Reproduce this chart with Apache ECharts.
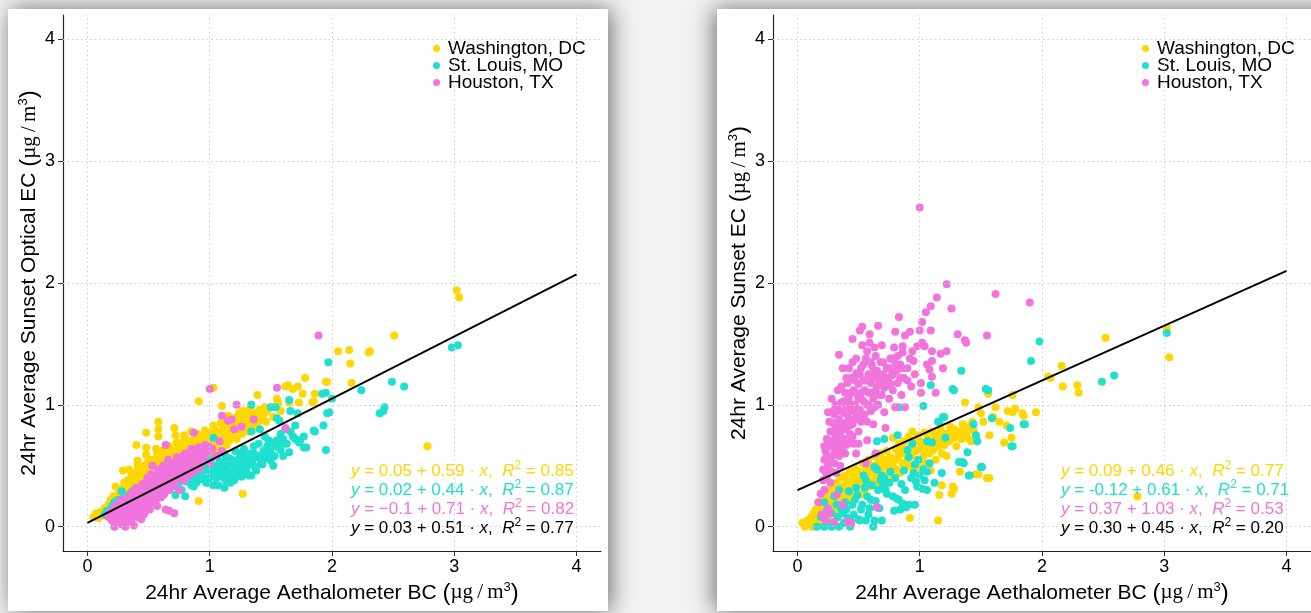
<!DOCTYPE html>
<html>
<head>
<meta charset="utf-8">
<script src="https://cdn.jsdelivr.net/npm/echarts@6/dist/echarts.min.js"></script>
<style>
html,body{margin:0;padding:0;background:#f2f2f2;}
#chart{width:1311px;height:613px;}
</style>
</head>
<body>
<div id="chart"></div>
<script>
// ---------------- data ----------------
const xTicks = [0, 1, 2, 3, 4];
const yTicks = [0, 1, 2, 3, 4];
const cities = ['Washington, DC', 'St. Louis, MO', 'Houston, TX'];
const cityColors = ['#FFD700', '#1FE0CF', '#F174DD'];

// Left panel: Aethalometer BC (x) vs Sunset Optical EC (y)
const opticalWashington = [[0.05,0.08],[0.07,0.11],[0.09,0.07],[0.11,0.12],[0.12,0.09],[0.14,0.15],[0.15,0.11],[0.17,0.18],[0.18,0.13],[0.19,0.22],[0.2,0.16],[0.21,0.25],[0.22,0.19],[0.23,0.33],[0.24,0.23],[0.25,0.2],[0.26,0.28],[0.27,0.24],[0.28,0.31],[0.29,0.46],[0.29,0.27],[0.3,0.36],[0.31,0.3],[0.32,0.25],[0.33,0.33],[0.34,0.47],[0.35,0.37],[0.35,0.29],[0.36,0.32],[0.37,0.4],[0.38,0.35],[0.39,0.3],[0.4,0.67],[0.4,0.38],[0.41,0.54],[0.41,0.5],[0.42,0.42],[0.43,0.36],[0.44,0.45],[0.45,0.39],[0.46,0.33],[0.47,0.44],[0.48,0.77],[0.48,0.65],[0.48,0.59],[0.49,0.52],[0.5,0.41],[0.5,0.47],[0.51,0.36],[0.52,0.43],[0.53,0.5],[0.54,0.39],[0.55,0.46],[0.56,0.64],[0.56,0.55],[0.57,0.42],[0.58,0.86],[0.58,0.8],[0.58,0.74],[0.59,0.49],[0.6,0.45],[0.61,0.57],[0.62,0.41],[0.63,0.52],[0.64,0.47],[0.65,0.6],[0.66,0.5],[0.67,0.44],[0.68,0.55],[0.69,0.62],[0.7,0.48],[0.71,0.81],[0.72,0.75],[0.72,0.58],[0.73,0.52],[0.74,0.66],[0.75,0.6],[0.76,0.47],[0.77,0.55],[0.78,0.69],[0.79,0.58],[0.8,0.72],[0.8,0.5],[0.81,0.63],[0.82,0.56],[0.83,0.68],[0.84,0.61],[0.85,0.52],[0.86,0.71],[0.87,0.64],[0.88,0.58],[0.89,0.7],[0.9,0.62],[0.91,1.03],[0.91,0.21],[0.92,0.67],[0.93,0.59],[0.94,0.74],[0.95,0.64],[0.96,0.55],[0.97,0.7],[0.98,0.63],[0.99,0.77],[1.0,0.68],[1.01,0.6],[1.02,0.73],[1.03,1.14],[1.04,0.66],[1.05,0.79],[1.06,0.71],[1.07,0.63],[1.08,0.76],[1.09,0.85],[1.1,0.99],[1.1,0.69],[1.11,0.8],[1.12,0.74],[1.13,0.88],[1.14,0.67],[1.15,0.91],[1.15,0.78],[1.16,0.71],[1.17,0.84],[1.18,0.83],[1.19,0.75],[1.2,0.89],[1.21,0.79],[1.22,0.72],[1.23,0.86],[1.24,0.8],[1.25,0.86],[1.26,0.76],[1.27,0.27],[1.28,0.92],[1.29,0.82],[1.3,0.88],[1.31,0.78],[1.32,0.9],[1.33,0.84],[1.34,0.95],[1.35,0.87],[1.36,0.8],[1.37,0.93],[1.38,0.85],[1.39,1.08],[1.4,0.9],[1.41,0.96],[1.42,0.88],[1.44,0.92],[1.46,0.86],[1.47,0.95],[1.5,0.98],[1.52,0.9],[1.55,1.05],[1.56,1.01],[1.58,0.95],[1.62,1.15],[1.64,1.16],[1.65,1.02],[1.68,1.13],[1.72,1.15],[1.73,1.02],[1.76,1.09],[1.78,1.22],[1.84,1.02],[1.85,1.03],[1.86,1.09],[1.95,1.19],[1.96,1.19],[2.05,1.44],[2.14,1.45],[2.15,1.34],[2.16,1.18],[2.3,1.43],[2.31,1.44],[2.51,1.57],[2.78,0.66],[3.02,1.94],[3.04,1.88],
  [0.3,0.31],[0.33,0.38],[0.36,0.42],[0.38,0.44],[0.42,0.47],[0.45,0.5],[0.47,0.36],[0.5,0.53],[0.52,0.55],[0.54,0.49],[0.57,0.6],[0.6,0.52],[0.62,0.63],[0.65,0.55],[0.67,0.66],[0.7,0.59],[0.73,0.69],[0.76,0.64],[0.79,0.75],[0.82,0.68],[0.85,0.78],[0.88,0.66],[0.9,0.76],[0.93,0.7],[0.96,0.79],[1.0,0.74],[1.03,0.83],[1.06,0.77],[1.09,0.72],[1.12,0.82],[1.16,0.76],[1.19,0.87],[1.22,0.8],[1.26,0.9],[1.29,0.86],[1.32,0.96],[1.36,0.92],[1.4,0.86],[1.43,0.94],[1.27,0.95],[1.24,0.93],[1.45,0.98]];
const opticalStLouis = [[0.14,0.1],[0.16,0.13],[0.18,0.11],[0.2,0.17],[0.22,0.2],[0.23,0.15],[0.25,0.22],[0.27,0.19],[0.28,0.29],[0.3,0.23],[0.32,0.2],[0.34,0.26],[0.36,0.24],[0.38,0.3],[0.4,0.27],[0.42,0.22],[0.44,0.31],[0.46,0.26],[0.48,0.34],[0.5,0.29],[0.52,0.24],[0.54,0.33],[0.56,0.28],[0.58,0.36],[0.6,0.31],[0.62,0.26],[0.64,0.35],[0.66,0.3],[0.68,0.38],[0.7,0.33],[0.72,0.26],[0.73,0.41],[0.75,0.36],[0.77,0.3],[0.79,0.42],[0.8,0.25],[0.81,0.37],[0.83,0.44],[0.85,0.34],[0.86,0.4],[0.88,0.46],[0.89,0.36],[0.9,0.42],[0.92,0.5],[0.93,0.39],[0.94,0.45],[0.96,0.52],[0.97,0.36],[0.98,0.47],[1.0,0.41],[1.01,0.55],[1.02,0.44],[1.03,0.73],[1.03,0.34],[1.04,0.5],[1.05,0.4],[1.06,0.58],[1.07,0.34],[1.08,0.47],[1.09,0.41],[1.1,0.53],[1.11,0.44],[1.12,0.6],[1.13,0.38],[1.14,0.5],[1.15,0.45],[1.16,0.56],[1.17,0.36],[1.18,0.4],[1.19,0.52],[1.2,0.47],[1.21,0.62],[1.22,0.42],[1.23,0.55],[1.24,0.49],[1.25,0.58],[1.26,0.41],[1.27,0.53],[1.28,0.64],[1.29,0.47],[1.3,0.56],[1.31,0.5],[1.32,0.42],[1.33,0.6],[1.34,1.0],[1.34,0.78],[1.34,0.42],[1.35,0.54],[1.36,0.66],[1.37,0.49],[1.38,0.58],[1.39,0.57],[1.4,0.68],[1.41,0.8],[1.42,0.52],[1.43,0.51],[1.44,0.62],[1.45,0.74],[1.46,0.58],[1.47,0.66],[1.48,0.71],[1.5,0.54],[1.5,0.98],[1.5,0.64],[1.52,0.5],[1.53,0.69],[1.54,0.98],[1.55,0.89],[1.55,0.71],[1.57,0.87],[1.58,0.76],[1.58,0.63],[1.6,0.68],[1.62,0.8],[1.65,1.04],[1.65,0.61],[1.66,0.95],[1.68,0.74],[1.7,0.83],[1.72,0.93],[1.73,0.69],[1.74,0.71],[1.77,0.74],[1.77,0.65],[1.79,0.65],[1.85,0.79],[1.86,0.78],[1.92,1.09],[1.93,0.83],[1.95,1.1],[1.95,0.63],[1.96,0.93],[1.97,1.35],[1.98,0.94],[2.0,1.05],[2.24,1.12],[2.39,0.93],[2.42,0.95],[2.43,0.98],[2.49,1.19],[2.59,1.15],[2.98,1.47],[3.03,1.49],
  [0.84,0.38],[0.87,0.33],[0.9,0.47],[0.95,0.4],[0.99,0.36],[1.02,0.49],[1.05,0.45],[1.08,0.53],[1.11,0.48],[1.13,0.57],[1.16,0.42],[1.18,0.55],[1.2,0.38],[1.22,0.5],[1.25,0.45],[1.27,0.61],[1.3,0.45],[1.33,0.53],[1.36,0.6],[1.38,0.46],[1.41,0.58],[1.44,0.55],[1.47,0.62],[1.5,0.6],[1.53,0.58],[1.56,0.65],[1.6,0.72],[1.63,0.68],[1.66,0.78],[1.7,0.72],[1.6,0.58],[1.12,0.32],[1.0,0.48],[0.93,0.44]];
const opticalHouston = [[0.17,0.08],[0.19,0.12],[0.2,0.05],[0.21,0.1],[0.22,0.0],[0.22,0.15],[0.23,0.07],[0.24,0.12],[0.25,0.03],[0.25,0.18],[0.26,0.08],[0.27,0.14],[0.28,0.02],[0.28,0.21],[0.29,0.1],[0.3,0.16],[0.31,0.0],[0.31,0.06],[0.32,0.22],[0.32,0.12],[0.33,0.18],[0.34,0.09],[0.35,0.25],[0.35,0.14],[0.36,0.04],[0.37,0.2],[0.38,0.01],[0.38,0.11],[0.39,0.27],[0.39,0.16],[0.4,0.22],[0.41,0.08],[0.42,0.3],[0.42,0.18],[0.43,0.13],[0.44,0.25],[0.45,0.2],[0.46,0.33],[0.46,0.1],[0.47,0.28],[0.48,0.16],[0.49,0.23],[0.5,0.35],[0.5,0.3],[0.51,0.14],[0.52,0.26],[0.53,0.5],[0.53,0.38],[0.54,0.2],[0.55,0.32],[0.56,0.42],[0.56,0.27],[0.57,0.17],[0.58,0.36],[0.59,0.3],[0.6,0.45],[0.6,0.24],[0.61,0.39],[0.62,0.33],[0.63,0.27],[0.64,0.67],[0.64,0.14],[0.64,0.42],[0.65,0.48],[0.66,0.36],[0.67,0.13],[0.67,0.3],[0.68,0.45],[0.69,0.4],[0.7,0.52],[0.7,0.34],[0.71,0.11],[0.72,0.47],[0.73,0.38],[0.74,0.55],[0.74,0.43],[0.75,0.3],[0.76,0.5],[0.77,0.44],[0.78,0.58],[0.79,0.38],[0.8,0.53],[0.81,0.47],[0.82,0.6],[0.83,0.42],[0.84,0.56],[0.85,0.5],[0.86,0.63],[0.87,0.77],[0.87,0.45],[0.88,0.58],[0.9,0.53],[0.91,0.65],[0.92,0.48],[0.93,0.6],[0.95,0.55],[0.96,0.67],[0.98,0.6],[1.0,1.13],[1.0,0.52],[1.02,0.64],[1.05,0.58],[1.08,0.7],[1.1,0.91],[1.1,0.62],[1.15,0.87],[1.18,0.88],[1.2,0.8],[1.22,1.0],[1.26,0.82],[1.36,0.88],[1.55,1.14],[1.62,0.81],[1.89,1.57],
  [0.2,0.13],[0.23,0.17],[0.26,0.2],[0.27,0.05],[0.29,0.23],[0.3,0.12],[0.33,0.06],[0.34,0.2],[0.36,0.28],[0.37,0.09],[0.4,0.32],[0.41,0.15],[0.43,0.27],[0.44,0.06],[0.45,0.35],[0.47,0.12],[0.48,0.3],[0.49,0.4],[0.51,0.2],[0.52,0.43],[0.54,0.34],[0.55,0.4],[0.57,0.23],[0.58,0.47],[0.59,0.41],[0.61,0.28],[0.62,0.5],[0.65,0.4],[0.66,0.55],[0.68,0.35],[0.69,0.5],[0.71,0.42],[0.73,0.57],[0.76,0.42],[0.78,0.48],[0.8,0.6],[0.83,0.52],[0.85,0.64],[0.89,0.62],[0.92,0.56],[0.94,0.64],[0.97,0.6],[0.99,0.66]];

// Right panel: Aethalometer BC (x) vs Sunset EC (y)
const thermalWashington = [[0.04,0.03],[0.06,0.0],[0.08,0.05],[0.1,0.02],[0.11,0.08],[0.12,0.0],[0.13,0.11],[0.14,0.04],[0.15,0.14],[0.16,0.07],[0.17,0.02],[0.18,0.18],[0.19,0.1],[0.2,0.22],[0.21,0.05],[0.22,0.14],[0.23,0.25],[0.24,0.19],[0.25,0.09],[0.26,0.3],[0.27,0.22],[0.28,0.15],[0.29,0.33],[0.3,0.26],[0.31,0.12],[0.32,0.36],[0.33,0.2],[0.34,0.29],[0.35,0.4],[0.36,0.24],[0.37,0.33],[0.38,0.17],[0.39,0.42],[0.4,0.3],[0.41,0.37],[0.42,0.22],[0.43,0.45],[0.44,0.34],[0.45,0.27],[0.46,0.41],[0.47,0.48],[0.48,0.31],[0.49,0.38],[0.5,0.45],[0.51,0.26],[0.52,0.35],[0.53,0.52],[0.54,0.42],[0.55,0.3],[0.56,0.47],[0.57,0.38],[0.58,0.55],[0.59,0.33],[0.6,0.44],[0.61,0.5],[0.62,0.37],[0.63,0.58],[0.64,0.46],[0.65,0.4],[0.66,0.53],[0.67,0.34],[0.68,0.6],[0.69,0.48],[0.7,0.42],[0.71,0.55],[0.72,0.38],[0.73,0.62],[0.74,0.5],[0.75,0.45],[0.76,0.57],[0.77,0.4],[0.78,0.73],[0.78,0.52],[0.8,0.64],[0.81,0.47],[0.82,0.56],[0.83,0.68],[0.84,0.44],[0.85,0.6],[0.86,0.52],[0.87,0.7],[0.88,0.48],[0.89,0.63],[0.9,0.56],[0.91,0.74],[0.92,0.07],[0.92,0.5],[0.93,0.66],[0.94,0.78],[0.94,0.58],[0.95,0.45],[0.96,0.7],[0.97,0.62],[0.98,0.53],[0.99,0.75],[1.0,0.64],[1.01,0.48],[1.02,0.69],[1.03,0.58],[1.04,0.77],[1.05,0.52],[1.06,0.66],[1.07,0.72],[1.08,0.6],[1.09,0.46],[1.1,0.78],[1.11,0.63],[1.12,0.7],[1.13,0.55],[1.14,0.74],[1.15,0.05],[1.15,0.66],[1.16,0.26],[1.17,0.8],[1.18,0.34],[1.18,0.6],[1.19,0.72],[1.2,0.67],[1.21,0.76],[1.22,0.58],[1.24,0.7],[1.25,0.82],[1.26,0.27],[1.27,0.33],[1.28,0.31],[1.28,0.73],[1.3,0.66],[1.31,0.78],[1.33,0.45],[1.34,0.72],[1.35,0.84],[1.37,1.02],[1.38,0.76],[1.4,0.82],[1.42,0.7],[1.44,0.79],[1.46,0.43],[1.48,0.98],[1.48,0.43],[1.5,0.93],[1.52,0.86],[1.55,1.12],[1.55,0.4],[1.56,1.09],[1.57,0.75],[1.57,0.4],[1.6,0.9],[1.62,0.98],[1.65,0.86],[1.69,0.69],[1.71,0.83],[1.72,0.95],[1.75,0.73],[1.76,1.08],[1.76,0.94],[1.78,0.97],[1.84,0.93],[1.85,0.91],[1.95,0.94],[2.05,1.23],[2.07,1.22],[2.16,1.32],[2.17,1.15],[2.29,1.16],[2.3,1.1],[2.52,1.55],[2.78,0.25],[3.02,1.63],[3.04,1.39],
  [0.2,0.12],[0.25,0.18],[0.3,0.2],[0.33,0.28],[0.36,0.3],[0.4,0.24],[0.43,0.31],[0.46,0.35],[0.5,0.38],[0.53,0.4],[0.56,0.42],[0.6,0.5],[0.63,0.44],[0.66,0.47],[0.7,0.52],[0.73,0.55],[0.76,0.5],[0.8,0.55],[0.83,0.6],[0.86,0.64],[0.9,0.62],[0.93,0.58],[0.96,0.63],[1.0,0.7],[1.03,0.66],[1.06,0.6],[1.1,0.7],[1.13,0.75],[1.17,0.7],[1.2,0.76],[1.24,0.77],[1.28,0.8],[1.32,0.74],[1.36,0.8],[1.4,0.72],[1.43,0.86]];
const thermalStLouis = [[0.16,0.0],[0.19,0.08],[0.22,0.0],[0.22,0.2],[0.24,0.13],[0.26,0.03],[0.28,0.11],[0.28,0.0],[0.3,0.25],[0.3,0.04],[0.32,0.18],[0.33,0.08],[0.34,0.0],[0.34,0.3],[0.36,0.14],[0.37,0.11],[0.38,0.03],[0.39,0.2],[0.4,0.14],[0.41,0.07],[0.42,0.29],[0.43,0.0],[0.44,0.04],[0.45,0.18],[0.46,0.1],[0.47,0.22],[0.48,0.32],[0.49,0.26],[0.5,0.06],[0.51,0.05],[0.52,0.14],[0.53,0.18],[0.54,0.42],[0.55,0.32],[0.56,0.05],[0.56,0.38],[0.57,0.25],[0.58,0.1],[0.59,0.15],[0.6,0.22],[0.61,0.34],[0.62,0.0],[0.63,0.49],[0.63,0.05],[0.64,0.21],[0.65,0.47],[0.65,0.7],[0.66,0.3],[0.67,0.15],[0.68,0.38],[0.69,0.42],[0.69,0.05],[0.7,0.34],[0.71,0.4],[0.71,0.72],[0.72,0.3],[0.73,0.27],[0.75,0.36],[0.76,0.45],[0.78,0.25],[0.79,0.13],[0.8,0.4],[0.81,0.23],[0.82,0.75],[0.83,0.22],[0.83,0.98],[0.84,0.14],[0.85,0.35],[0.86,0.19],[0.87,0.46],[0.88,0.3],[0.89,0.16],[0.9,0.63],[0.91,0.57],[0.91,0.18],[0.93,0.4],[0.94,0.68],[0.95,0.44],[0.96,0.51],[0.96,0.18],[0.97,0.37],[0.98,0.33],[0.99,0.55],[1.0,0.42],[1.02,0.31],[1.03,0.99],[1.03,0.47],[1.04,0.38],[1.06,0.3],[1.06,0.45],[1.06,0.7],[1.08,0.52],[1.09,1.16],[1.1,0.69],[1.12,0.36],[1.15,0.86],[1.16,0.86],[1.18,0.44],[1.19,0.9],[1.2,0.9],[1.21,0.73],[1.27,1.13],[1.28,1.12],[1.32,0.53],[1.34,1.28],[1.35,0.53],[1.36,0.52],[1.39,0.61],[1.4,0.42],[1.41,0.42],[1.44,0.84],[1.46,0.75],[1.47,0.7],[1.5,0.49],[1.51,0.49],[1.54,1.13],[1.56,1.12],[1.59,0.89],[1.74,0.81],[1.75,0.66],[1.76,0.66],[1.85,0.84],[1.86,0.84],[1.91,1.36],[1.98,1.52],[2.49,1.19],[2.59,1.24],[3.02,1.59]];
const thermalHouston = [[0.17,0.2],[0.19,0.27],[0.2,0.1],[0.21,0.47],[0.21,0.38],[0.22,0.55],[0.22,0.3],[0.23,0.05],[0.23,0.62],[0.24,0.41],[0.24,0.72],[0.25,0.94],[0.25,0.5],[0.25,0.15],[0.26,0.66],[0.26,0.11],[0.27,0.36],[0.27,0.78],[0.28,1.05],[0.28,0.58],[0.28,0.45],[0.29,0.85],[0.29,0.68],[0.3,0.52],[0.3,0.04],[0.3,0.92],[0.31,0.74],[0.31,0.62],[0.32,0.26],[0.32,0.82],[0.32,0.44],[0.33,0.97],[0.33,0.7],[0.34,1.41],[0.34,0.58],[0.34,0.88],[0.35,0.76],[0.35,0.5],[0.36,1.02],[0.36,0.66],[0.37,1.3],[0.37,0.18],[0.37,0.84],[0.38,0.93],[0.38,0.72],[0.39,1.1],[0.39,0.6],[0.4,0.8],[0.4,0.98],[0.41,0.04],[0.41,1.18],[0.41,0.7],[0.42,0.88],[0.42,1.05],[0.43,0.76],[0.44,0.95],[0.44,0.03],[0.44,1.22],[0.45,1.54],[0.45,1.35],[0.45,0.84],[0.46,1.12],[0.46,0.68],[0.47,1.0],[0.48,0.6],[0.48,0.9],[0.48,1.26],[0.49,1.08],[0.5,0.78],[0.5,1.17],[0.51,1.61],[0.51,0.96],[0.52,1.3],[0.52,0.86],[0.53,1.64],[0.53,1.49],[0.53,1.04],[0.54,1.2],[0.55,0.92],[0.55,1.12],[0.56,0.52],[0.56,1.38],[0.57,0.71],[0.57,1.0],[0.58,1.25],[0.58,1.1],[0.59,1.58],[0.59,1.51],[0.6,0.95],[0.6,1.18],[0.61,1.32],[0.62,1.05],[0.62,0.84],[0.63,1.47],[0.63,1.22],[0.64,0.6],[0.64,1.12],[0.65,0.16],[0.65,1.28],[0.66,1.65],[0.66,1.0],[0.67,1.18],[0.68,1.35],[0.69,1.49],[0.69,1.08],[0.7,1.25],[0.71,0.94],[0.72,0.81],[0.72,1.15],[0.73,1.3],[0.74,1.2],[0.75,1.05],[0.76,1.38],[0.77,1.24],[0.78,1.38],[0.78,1.12],[0.79,1.47],[0.8,1.6],[0.8,0.98],[0.81,1.28],[0.82,1.18],[0.83,1.72],[0.84,1.33],[0.85,1.08],[0.86,1.48],[0.86,1.43],[0.87,1.22],[0.88,1.57],[0.88,0.98],[0.9,1.3],[0.92,1.6],[0.93,1.15],[0.94,1.44],[0.95,1.36],[0.96,1.25],[0.98,1.48],[1.0,2.62],[1.0,1.61],[1.01,1.18],[1.01,1.1],[1.02,1.68],[1.02,1.51],[1.04,1.48],[1.05,1.76],[1.06,1.33],[1.08,1.29],[1.09,1.81],[1.09,1.61],[1.1,1.44],[1.1,1.36],[1.1,1.23],[1.13,1.1],[1.14,1.88],[1.17,1.42],[1.19,1.3],[1.22,1.99],[1.22,1.44],[1.26,1.79],[1.31,1.58],[1.37,1.53],[1.38,1.51],[1.55,1.57],[1.62,1.91],[1.9,1.84],
  [0.22,0.66],[0.23,0.45],[0.24,0.58],[0.26,0.86],[0.27,0.52],[0.28,0.7],[0.29,0.95],[0.3,0.6],[0.31,0.82],[0.31,1.0],[0.32,0.66],[0.33,0.78],[0.33,1.12],[0.34,0.68],[0.35,0.95],[0.36,0.8],[0.36,1.15],[0.37,0.62],[0.38,1.03],[0.39,0.85],[0.4,1.22],[0.4,0.67],[0.41,0.92],[0.42,1.3],[0.43,1.0],[0.43,0.83],[0.44,1.1],[0.45,0.74],[0.46,0.98],[0.47,1.2],[0.47,0.88],[0.48,1.38],[0.49,0.96],[0.5,1.05],[0.5,0.68],[0.51,1.25],[0.52,1.1],[0.53,0.92],[0.54,1.33],[0.55,1.02],[0.56,1.2],[0.57,0.86],[0.57,1.44],[0.58,1.0],[0.59,1.2],[0.6,1.35],[0.61,1.1],[0.62,1.27],[0.63,0.98],[0.64,1.4],[0.65,1.15],[0.66,1.25],[0.67,1.08],[0.68,1.2],[0.7,1.35],[0.71,1.14],[0.73,1.22],[0.75,1.3],[0.76,1.17],[0.78,1.25],[0.8,1.34],[0.82,1.4],[0.84,1.22],[0.86,1.3],[0.9,1.2],[0.92,1.38]];

// overall fits (intercept, slope) and the range they are drawn over
const fitOptical = [0.03, 0.51];
const fitThermal = [0.30, 0.45];
const fitRange = [0, 4];

// equation labels: intercepts, slopes, R^2 (rows: DC, MO, TX, all)
const eqOpticalA = ['0.05', '0.02', '\u22120.1', '0.03'];
const eqOpticalB = ['0.59', '0.44', '0.71', '0.51'];
const eqOpticalR2 = ['0.85', '0.87', '0.82', '0.77'];
const eqThermalA = ['0.09', '-0.12', '0.37', '0.30'];
const eqThermalB = ['0.46', '0.61', '1.03', '0.45'];
const eqThermalR2 = ['0.77', '0.71', '0.53', '0.20'];
const eqColors = ['#FFD700', '#1FE0CF', '#F174DD', '#000000'];

// ---------------- chart ----------------
const chart = echarts.init(document.getElementById('chart'), null, {renderer: 'canvas'});
const FONT = 'Liberation Sans, Arial, sans-serif';

const unitRich = {
  p: {fontSize: 24, fontFamily: FONT},
  mu: {fontSize: 21, fontFamily: 'Liberation Serif, serif'},
  sup: {fontSize: 13, fontFamily: FONT, verticalAlign: 'top'}
};
function unitName(t) { return t + ' {p|(}{mu|\u00b5g\u2009/\u2009m}{sup|3}{p|)}'; }

function xAxisDef(gi, name) {
  return {
    type: 'value', gridIndex: gi, min: -0.2, max: 4.2,
    name: name, nameLocation: 'middle', nameGap: 27,
    nameTextStyle: {fontSize: 21, color: '#000', fontFamily: FONT, rich: unitRich},
    axisLine: {show: true, onZero: false, lineStyle: {color: '#222', width: 1.2}},
    axisTick: {show: true, length: 5, customValues: xTicks, lineStyle: {color: '#333'}},
    axisLabel: {customValues: xTicks, fontSize: 18, color: '#000', fontFamily: FONT, margin: 7},
    splitLine: {show: false}
  };
}
function yAxisDef(gi, name) {
  return {
    type: 'value', gridIndex: gi, min: -0.2, max: 4.2,
    name: name, nameLocation: 'middle', nameGap: 20, nameRotate: 90,
    nameTextStyle: {fontSize: 21, color: '#000', fontFamily: FONT, rich: unitRich},
    axisLine: {show: true, onZero: false, lineStyle: {color: '#222', width: 1.2}},
    axisTick: {show: true, length: 5, customValues: yTicks, lineStyle: {color: '#333'}},
    axisLabel: {customValues: yTicks, fontSize: 18, color: '#000', fontFamily: FONT, margin: 8},
    splitLine: {show: false}
  };
}

function gridLines(gi) {
  return {
    type: 'scatter', xAxisIndex: gi, yAxisIndex: gi, data: [], z: 1, silent: true,
    markLine: {
      silent: true, symbol: 'none', label: {show: false}, animation: false,
      lineStyle: {color: '#cdcdcd', width: 1, type: [1.5, 3]},
      data: xTicks.map(v => ({xAxis: v})).concat(yTicks.map(v => ({yAxis: v})))
    }
  };
}
function scatter(gi, ci, data) {
  return {
    type: 'scatter', name: cities[ci], xAxisIndex: gi, yAxisIndex: gi, data: data,
    symbolSize: 8, z: 2 + ci * 0.1,
    itemStyle: {color: cityColors[ci], opacity: 1}
  };
}
function fitLine(gi, fit) {
  return {
    type: 'line', xAxisIndex: gi, yAxisIndex: gi, z: 5, symbol: 'none',
    data: fitRange.map(x => [x, fit[0] + fit[1] * x]),
    lineStyle: {color: '#000', width: 2}
  };
}

function eqTexts(x0, A, B, R2) {
  const rows = [471, 490, 509, 528];
  return A.map((a, i) => ({
    type: 'text', x: x0, y: rows[i], z: 100,
    style: {
      text: '{i|y} = ' + a + ' + ' + B[i] + ' \u00b7 {i|x},  {i|R}{s|2} = ' + R2[i],
      fill: eqColors[i], fontSize: 17, fontFamily: FONT,
      verticalAlign: 'middle', align: 'left', lineHeight: 22,
      rich: {
        i: {fontStyle: 'italic', fontSize: 17, fontFamily: FONT, fill: eqColors[i]},
        s: {fontSize: 12, fontFamily: FONT, verticalAlign: 'top', fill: eqColors[i]}
      }
    }
  }));
}

function legendDef(left) {
  return {
    data: cities, orient: 'vertical', left: left, top: 39, itemGap: -2, padding: 0,
    icon: 'circle', itemWidth: 7, itemHeight: 7,
    textStyle: {fontSize: 19, lineHeight: 17.5, color: '#000', fontFamily: FONT, padding: [0, 0, 0, 3]}
  };
}

const option = {
  animation: false,
  backgroundColor: '#f2f2f2',
  grid: [
    {left: 63, top: 15, width: 538, height: 536},
    {left: 773, top: 15, width: 538, height: 536}
  ],
  xAxis: [
    xAxisDef(0, unitName('24hr Average Aethalometer BC')),
    xAxisDef(1, unitName('24hr Average Aethalometer BC'))
  ],
  yAxis: [
    yAxisDef(0, unitName('24hr Average Sunset Optical EC')),
    yAxisDef(1, unitName('24hr Average Sunset EC'))
  ],
  legend: [legendDef(433), legendDef(1142)],
  graphic: [
    {type: 'rect', z: -10, shape: {x: 8, y: 9, width: 600, height: 602},
     style: {fill: '#fff', shadowBlur: 22, shadowColor: 'rgba(0,0,0,0.55)', shadowOffsetX: 3}},
    {type: 'rect', z: -10, shape: {x: 717, y: 9, width: 620, height: 602},
     style: {fill: '#fff', shadowBlur: 22, shadowColor: 'rgba(0,0,0,0.55)', shadowOffsetX: -3}}
  ].concat(eqTexts(351, eqOpticalA, eqOpticalB, eqOpticalR2))
   .concat(eqTexts(1061, eqThermalA, eqThermalB, eqThermalR2)),
  series: [
    gridLines(0), gridLines(1),
    scatter(0, 0, opticalWashington), scatter(0, 1, opticalStLouis), scatter(0, 2, opticalHouston),
    scatter(1, 0, thermalWashington), scatter(1, 1, thermalStLouis), scatter(1, 2, thermalHouston),
    fitLine(0, fitOptical), fitLine(1, fitThermal)
  ]
};
chart.setOption(option);
</script>
</body>
</html>
